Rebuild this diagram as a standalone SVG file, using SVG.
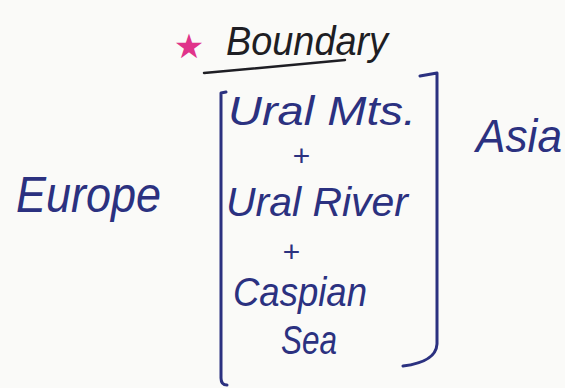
<svg xmlns="http://www.w3.org/2000/svg" width="565" height="388" viewBox="0 0 565 388">
  <style>
    .ink { fill: #2b3180; font-family: "Liberation Sans", "DejaVu Sans", sans-serif; font-style: italic; }
    .head { fill: #1e1e24; font-family: "Liberation Sans", "DejaVu Sans", sans-serif; font-style: italic; }
    .pen { fill: none; stroke: #2b3180; stroke-width: 3; stroke-linecap: round; stroke-linejoin: round; }
  </style>
  <rect width="565" height="388" fill="#fafaf8"/>

  <!-- heading -->
  <g id="heading">
    <text x="189" y="58" font-size="34" fill="#e0338a" font-family="DejaVu Sans, sans-serif" text-anchor="middle">★</text>
    <text class="head" x="226" y="55" font-size="40" textLength="162" lengthAdjust="spacingAndGlyphs">Boundary</text>
    <path d="M204 73 L345 60" fill="none" stroke="#1e1e24" stroke-width="2.5" stroke-linecap="round"/>
  </g>

  <!-- left label -->
  <g id="europe">
    <text class="ink" x="16" y="212" font-size="50" textLength="145" lengthAdjust="spacingAndGlyphs">Europe</text>
  </g>

  <!-- right label -->
  <g id="asia">
    <text class="ink" x="476" y="152" font-size="46" textLength="86" lengthAdjust="spacingAndGlyphs">Asia</text>
  </g>

  <!-- bracketed list -->
  <g id="boundary-list">
    <text class="ink" x="228" y="125" font-size="40" textLength="188" lengthAdjust="spacingAndGlyphs">Ural Mts.</text>
    <text class="ink" x="301" y="166" font-size="30" text-anchor="middle">+</text>
    <text class="ink" x="226" y="216" font-size="40" textLength="182" lengthAdjust="spacingAndGlyphs">Ural River</text>
    <text class="ink" x="291" y="262" font-size="30" text-anchor="middle">+</text>
    <text class="ink" x="233" y="306" font-size="40" textLength="134" lengthAdjust="spacingAndGlyphs">Caspian</text>
    <text class="ink" x="281" y="354" font-size="40" textLength="56" lengthAdjust="spacingAndGlyphs">Sea</text>
  </g>

  <!-- brackets -->
  <g id="connectors">
    <path class="pen" d="M226 92 L221 93 L221 378 Q221 385 227 385"/>
    <path class="pen" d="M420 76 L437 73 L437 344 Q436 362 403 366"/>
  </g>
</svg>
